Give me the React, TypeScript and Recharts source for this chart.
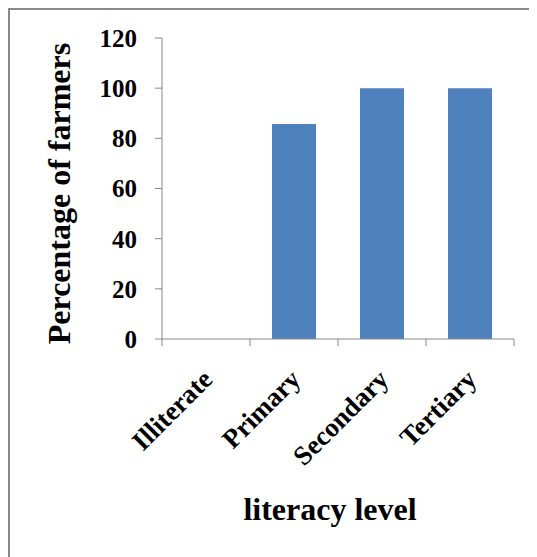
import React from "react";
import { BarChart, Bar, XAxis, YAxis, Label } from "recharts";

// Share of farmers by literacy level
const levels = ["Illiterate", "Primary", "Secondary", "Tertiary"];
const farmerPct = [0, 85.7, 100, 100];
const yTicks = [0, 20, 40, 60, 80, 100, 120];

const data = levels.map((level, i) => ({ level, pct: farmerPct[i] }));

const FONT = "'Liberation Serif', 'Times New Roman', serif";
const AXIS = "#888888";
const BAR = "#4F81BD";

// Category tick: Excel-style boundary tick marks + label rotated 45°
function LevelTick(props: any) {
  const { x, y, payload, index } = props;
  const half = payload?.offset ?? 44;
  const last = index === levels.length - 1;
  return (
    <g>
      <line x1={x - half} y1={y} x2={x - half} y2={y + 7} stroke={AXIS} />
      {last && <line x1={x + half} y1={y} x2={x + half} y2={y + 7} stroke={AXIS} />}
      <g transform={`translate(${x + 8},${y + 42}) rotate(-45)`}>
        <text x={0} y={0} textAnchor="end" fontFamily={FONT} fontWeight="bold" fontSize={27} fill="#000">
          {payload.value}
        </text>
      </g>
    </g>
  );
}

export default function App() {
  return (
    <div
      style={{
        width: 527,
        height: 547,
        borderLeft: "2px solid #8a8a8a",
        borderTop: "2px solid #8a8a8a",
        background: "#fff",
      }}
    >
      <BarChart
        width={527}
        height={547}
        data={data}
        margin={{ top: 28, right: 23, left: 0, bottom: 18 }}
        barCategoryGap="25%"
      >
        <XAxis
          dataKey="level"
          interval={0}
          height={200}
          tickSize={0}
          tickMargin={0}
          stroke={AXIS}
          tick={<LevelTick />}
        >
          <Label
            content={(p: any) => {
              const vb = p.viewBox;
              return (
                <text
                  x={vb.x + vb.width / 2 - 8}
                  y={vb.y + 181}
                  textAnchor="middle"
                  fontFamily={FONT}
                  fontWeight="bold"
                  fontSize={32}
                  fill="#000"
                >
                  literacy level
                </text>
              );
            }}
          />
        </XAxis>
        <YAxis
          width={152}
          domain={[0, 120]}
          ticks={yTicks}
          interval={0}
          tickSize={7}
          tickMargin={18}
          stroke={AXIS}
          tick={{ fontFamily: FONT, fontWeight: "bold", fontSize: 25, fill: "#000" }}
        >
          <Label
            content={(p: any) => {
              const vb = p.viewBox;
              const cx = vb.x + 60;
              const cy = vb.y + vb.height / 2 + 5;
              return (
                <text
                  x={cx}
                  y={cy}
                  transform={`rotate(-90, ${cx}, ${cy})`}
                  textAnchor="middle"
                  fontFamily={FONT}
                  fontWeight="bold"
                  fontSize={32}
                  fill="#000"
                >
                  Percentage of farmers
                </text>
              );
            }}
          />
        </YAxis>
        <Bar dataKey="pct" fill={BAR} isAnimationActive={false} />
      </BarChart>
    </div>
  );
}
